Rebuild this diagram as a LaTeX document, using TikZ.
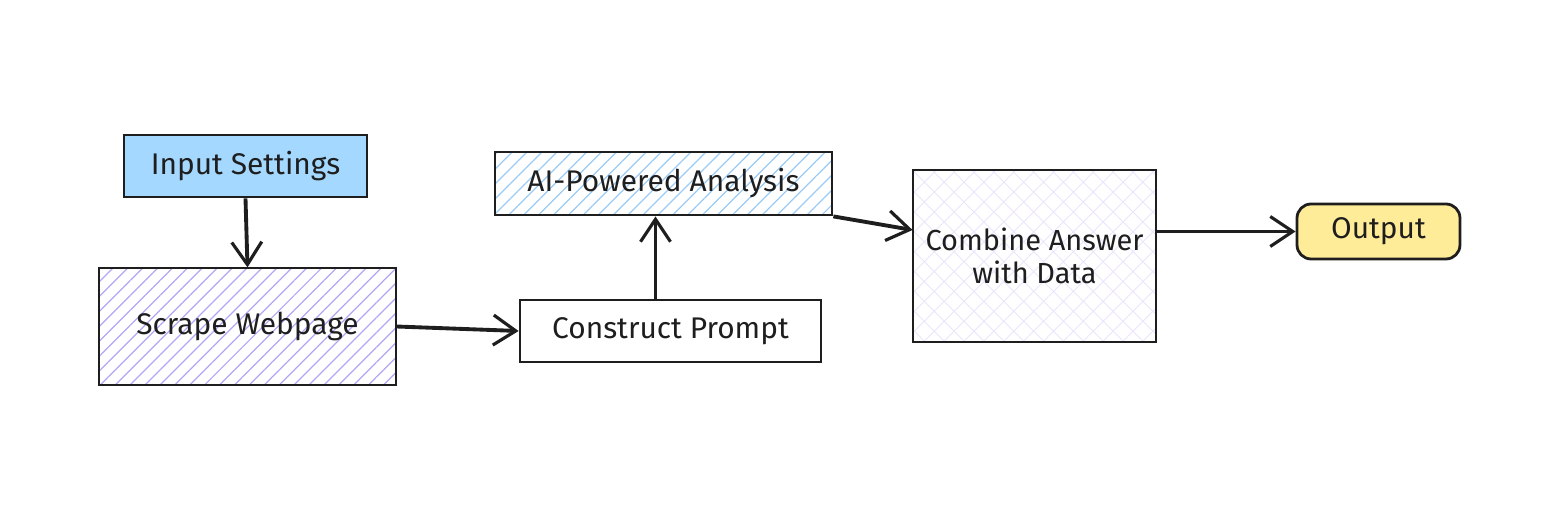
\documentclass[tikz,border=0pt]{standalone}
\usepackage{fontspec}
\setmainfont{Fira Sans}
\definecolor{inkblack}{RGB}{30,30,30}
\definecolor{skyblue}{RGB}{165,216,255}
\definecolor{hatchviolet}{RGB}{180,165,245}
\definecolor{hatchblue}{RGB}{155,203,245}
\definecolor{crossviolet}{RGB}{234,228,252}
\definecolor{butter}{RGB}{255,236,153}
\usepackage{tikz}
\usetikzlibrary{arrows.meta,positioning,calc,patterns.meta}
\tikzset{
  box/.style={draw=inkblack, line width=1.6pt, align=center, inner sep=0pt,
              font=\fontsize{17}{24}\selectfont, text=inkblack},
  flow/.style={draw=inkblack, line width=2.2pt,
               -{Straight Barb[length=4.5mm,width=6mm,line width=1.8pt]}}
}

\begin{document}
\begin{tikzpicture}[x=0.02cm, y=-0.02cm]
  \useasboundingbox (0,0) rectangle (1560,530);
  % boxes
  \node[box, fill=skyblue, minimum width=4.86cm, minimum height=1.24cm]
    (input) at (245.5,166) {Input Settings};
  \node[box, pattern={Lines[angle=45,distance=6pt,line width=0.7pt]},
        pattern color=hatchviolet, minimum width=5.94cm, minimum height=2.34cm]
    (scrape) at (247.5,326.5) {};
  \node[font=\fontsize{17}{24}\selectfont, text=inkblack] at (scrape) {Scrape Webpage};
  \node[box, fill=white, minimum width=6.02cm, minimum height=1.24cm]
    (prompt) at (670.5,331) {Construct Prompt};
  \node[box, pattern={Lines[angle=45,distance=6pt,line width=0.7pt]},
        pattern color=hatchblue, minimum width=6.74cm, minimum height=1.26cm]
    (analysis) at (663.5,183.5) {};
  \node[font=\fontsize{17}{24}\selectfont, text=inkblack] at (analysis) {AI-Powered Analysis};
  \node[box, pattern={Hatch[angle=45,distance=8pt,line width=0.5pt]},
        pattern color=crossviolet, minimum width=4.86cm, minimum height=3.44cm]
    (combine) at (1034.5,256) {};
  \node[font=\fontsize{16.5}{18.5}\selectfont, text=inkblack, align=center]
    at (combine) {Combine Answer\\with Data};
  \node[box, fill=butter, rounded corners=8pt, minimum width=3.26cm, minimum height=1.1cm]
    (output) at (1378.5,231.5) {Output};
  % connectors
  \draw[flow] (input.south) -- (scrape.north);
  \draw[flow] (scrape.east) -- (prompt.west);
  \draw[flow] ([xshift=-0.3cm]prompt.north) -- ([xshift=-0.3cm]prompt.north |- analysis.south);
  \draw[flow] (analysis.south east) -- ([yshift=0.52cm]combine.west);
  \draw[flow] (combine.east |- output) -- (output.west);
\end{tikzpicture}
\end{document}
